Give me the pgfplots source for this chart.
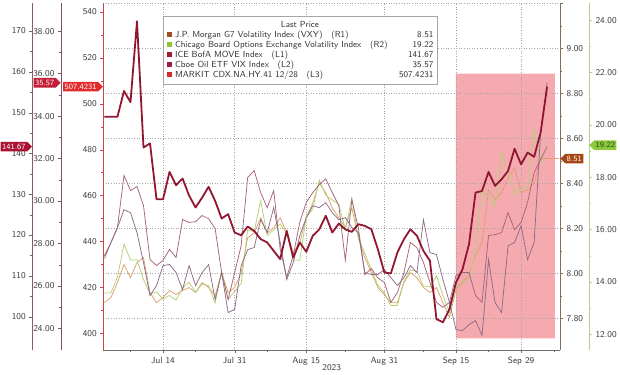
\documentclass[border=0pt]{standalone}
\usepackage{pgfplots}
\pgfplotsset{compat=1.18}
\renewcommand{\familydefault}{\sfdefault}
\usetikzlibrary{shapes.symbols}
\definecolor{tickc}{RGB}{60,60,60}
\definecolor{gridc}{RGB}{165,165,165}
\definecolor{pinkc}{RGB}{245,170,176}
\definecolor{lVXY}{RGB}{220,160,110}
\definecolor{lVIX}{RGB}{180,208,115}
\definecolor{lMOVE}{RGB}{168,100,115}
\definecolor{lOVX}{RGB}{140,108,135}
\definecolor{lCDX}{RGB}{145,22,48}
\definecolor{sVXY}{RGB}{160,80,30}
\definecolor{sVIX}{RGB}{140,200,50}
\definecolor{sMOVE}{RGB}{160,30,45}
\definecolor{sOVX}{RGB}{150,30,75}
\definecolor{sCDX}{RGB}{215,40,40}
\definecolor{aL1}{RGB}{140,90,100}
\definecolor{aL2}{RGB}{130,80,105}
\definecolor{aL3}{RGB}{200,70,70}
\definecolor{aR1}{RGB}{130,110,90}
\definecolor{aR2}{RGB}{185,205,140}
\definecolor{axg}{RGB}{110,110,110}
\definecolor{bL1}{RGB}{170,20,50}
\definecolor{bL2}{RGB}{195,30,55}
\definecolor{bL3}{RGB}{225,45,45}
\definecolor{bR1}{RGB}{165,70,20}
\definecolor{bR2}{RGB}{140,200,60}
\definecolor{bR2t}{RGB}{30,80,20}
\newcommand{\sq}[1]{{\color{#1}\rule[0pt]{5.5pt}{5.5pt}}\hspace{3pt}}
\newcommand{\legitem}[1]{\makebox[233pt][l]{#1}}
\tikzset{gridsty/.style={draw=gridc, dash pattern=on 1pt off 1.6pt, line width=0.5pt},
  badge/.style={shape=signal, fill=#1, text=white, font=\fontsize{8}{9}\selectfont,
  inner xsep=1.5pt, inner ysep=2pt}}
\pgfplotsset{
  base/.style={scale only axis, height=348pt, anchor=south west,
    clip mode=individual,
    /pgf/number format/assume math mode=true,
    tick label style={font=\fontsize{9}{10}\selectfont, text=tickc},
    tick align=outside, major tick length=3pt, minor tick length=1.8pt,
    axis line style={-}},
}
\begin{document}
\begin{tikzpicture}
\path (0,0) rectangle (620pt,370pt);
% pink region
\begin{axis}[base, hide axis, at={(103.3pt,22pt)}, width=457.7pt,
  xmin=-0.2, xmax=70, ymin=392.6, ymax=543.9]
\addplot[fill=pinkc, draw=none] coordinates {(54,397.8) (69.2,397.8) (69.2,513.1) (54,513.1) (54,397.8)};
\end{axis}
% x axis and vertical grid
\begin{axis}[base, at={(103.3pt,22pt)}, width=457.7pt,
  xmin=-0.2, xmax=70, ymin=0, ymax=1,
  axis x line*=bottom, axis y line*=left, ytick=\empty,
  y axis line style={draw=none},
  x axis line style={draw=axg},
  xtick={9,20,31,43,54,64}, xticklabels={Jul 14,Jul 31,Aug 15,Aug 31,Sep 15,Sep 29},
  minor xtick={4,14,25,37,49,59,69},
  tick style={draw=axg},
  xmajorgrids, major grid style={gridsty},
  xlabel={2023}, xlabel style={font=\fontsize{9}{10}\selectfont, text=tickc, yshift=7pt}]
\end{axis}
% R1: VXY
\begin{axis}[base, at={(103.3pt,22pt)}, width=457.7pt,
  xmin=-0.2, xmax=70, ymin=7.658, ymax=9.202,
  axis x line*=bottom, xtick=\empty, x axis line style={draw=none},
  axis y line*=right, y axis line style={draw=aR1}, tick style={draw=aR1},
  ytick={7.8,8,8.2,8.4,8.6,8.8,9,9.2},
  yticklabels={7.80,8.00,8.20,8.40,8.60,8.80,9.00,{}},
  minor y tick num=1,
  ymajorgrids, major grid style={gridsty}]
\addplot[lVXY, line width=0.75pt] coordinates {(0,7.870)(1,7.893)(2,7.959)(3,8.039)(4,7.981)(5,8.048)(6,8.070)(7,7.915)(8,7.870)(9,7.893)(10,7.924)(11,7.906)(12,7.924)(13,7.937)(14,7.915)(15,7.959)(16,7.937)(17,7.901)(18,8.003)(19,7.915)(20,7.937)(21,8.003)(22,8.158)(23,8.180)(24,8.247)(25,8.180)(26,8.203)(27,8.247)(28,8.180)(29,8.092)(30,8.136)(31,8.247)(32,8.313)(33,8.402)(34,8.358)(35,8.291)(36,8.247)(37,8.203)(38,8.291)(39,8.158)(40,8.070)(41,8.003)(42,7.937)(43,7.906)(44,7.870)(45,7.870)(46,7.959)(47,8.003)(48,7.981)(49,7.937)(50,7.915)(51,7.937)(52,7.870)(53,7.804)(54,7.928)(55,7.959)(56,7.994)(57,8.079)(58,8.136)(59,8.371)(60,8.327)(61,8.358)(62,8.424)(63,8.468)(64,8.358)(65,8.371)(66,8.402)(67,8.51)(68,8.51)(69.8,8.51)};
\node[badge=bR1, signal to=west, anchor=west] at (axis cs:70,8.51) {8.51};
\end{axis}
% R2: VIX
\begin{axis}[base, at={(103.3pt,22pt)}, width=486.7pt,
  xmin=-0.2, xmax=74.45, ymin=11.38, ymax=24.66,
  axis x line*=bottom, xtick=\empty, x axis line style={draw=none},
  axis y line*=right, y axis line style={draw=aR2}, tick style={draw=aR2},
  ytick={12,14,16,18,20,22,24}, minor y tick num=1,
  yticklabels={12.00,14.00,16.00,18.00,20.00,22.00,24.00}]
\addplot[lVIX, line width=0.75pt] coordinates {(0,13.57)(1,13.57)(2,14.18)(3,15.44)(4,14.83)(5,14.84)(6,14.09)(7,13.54)(8,13.61)(9,13.34)(10,13.48)(11,13.30)(12,13.76)(13,13.99)(14,13.60)(15,13.91)(16,13.86)(17,13.19)(18,14.41)(19,13.33)(20,13.63)(21,13.93)(22,15.99)(23,15.92)(24,17.10)(25,15.77)(26,15.99)(27,16.21)(28,15.85)(29,14.84)(30,14.82)(31,16.46)(32,16.78)(33,17.89)(34,17.30)(35,17.13)(36,16.97)(37,15.98)(38,17.20)(39,15.68)(40,15.08)(41,14.45)(42,13.88)(43,13.57)(44,13.09)(45,13.09)(46,14.02)(47,14.45)(48,14.40)(49,13.84)(50,13.80)(51,14.23)(52,13.48)(53,12.82)(54,13.79)(55,14.00)(56,14.11)(57,15.14)(58,17.54)(59,17.20)(60,16.90)(61,18.94)(62,18.22)(63,17.34)(64,17.52)(65,17.61)(66,19.78)(67,18.58)(68,19.22)};
\node[badge=bR2, text=bR2t, signal to=west, anchor=west] at (axis cs:74.45,19.22) {19.22};
\end{axis}
% L1: MOVE
\begin{axis}[base, at={(32.3pt,22pt)}, width=528.7pt,
  xmin=-11.09, xmax=70, ymin=91.75, ymax=176.9,
  axis x line*=bottom, xtick=\empty, x axis line style={draw=none},
  axis y line*=left, y axis line style={draw=aL1}, tick style={draw=aL1},
  ytick={100,110,120,130,140,150,160,170}, minor y tick num=1]
\addplot[lMOVE, line width=0.75pt] coordinates {(0,114.3)(1,118.2)(2,121.8)(3,134.6)(4,130.9)(5,131.9)(6,127.2)(7,114.0)(8,112.5)(9,113.8)(10,116.5)(11,114.5)(12,123.8)(13,123.1)(14,123.3)(15,124.8)(16,124.0)(17,121.6)(18,110.8)(19,104.2)(20,110.8)(21,117.4)(22,134.1)(23,135.8)(24,130.4)(25,126.7)(26,130.9)(27,116.5)(28,109.6)(29,115.0)(30,123.1)(31,128.0)(32,130.4)(33,132.4)(34,133.8)(35,130.4)(36,127.2)(37,113.8)(38,128.7)(39,121.8)(40,110.3)(41,111.8)(42,109.5)(43,108.4)(44,103.5)(45,105.9)(46,110.8)(47,118.2)(48,116.9)(49,113.3)(50,108.4)(51,103.5)(52,102.3)(53,103.5)(54,110.1)(55,110.8)(56,110.8)(57,105.2)(58,103.5)(59,119.9)(60,120.1)(61,120.6)(62,125.5)(63,121.3)(64,123.1)(65,128.0)(66,135.3)(67,138.5)(68,141.67)};
\node[badge=bL1, signal to=east, anchor=east] at (axis cs:-11.09,141.67) {141.67};
\end{axis}
% L2: OVX
\begin{axis}[base, at={(61pt,22pt)}, width=500pt,
  xmin=-6.69, xmax=70, ymin=22.97, ymax=39.33,
  axis x line*=bottom, xtick=\empty, x axis line style={draw=none},
  axis y line*=left, y axis line style={draw=aL2}, tick style={draw=aL2},
  ytick={24,26,28,30,32,34,36,38}, minor y tick num=1,
  yticklabels={24.00,26.00,28.00,30.00,32.00,34.00,36.00,38.00}]
\addplot[lOVX, line width=0.75pt] coordinates {(0,27.43)(1,28.04)(2,28.75)(3,29.59)(4,29.45)(5,28.51)(6,27.10)(7,25.55)(8,26.02)(9,26.96)(10,27.01)(11,26.63)(12,25.83)(13,26.96)(14,26.02)(15,26.63)(16,27.01)(17,25.36)(18,26.63)(19,24.75)(20,24.90)(21,26.96)(22,27.71)(23,27.81)(24,29.12)(25,28.51)(26,29.69)(27,28.04)(28,26.30)(29,27.10)(30,28.37)(31,29.22)(32,29.78)(33,29.69)(34,29.92)(35,29.45)(36,29.12)(37,29.22)(38,28.75)(39,28.51)(40,26.63)(41,26.54)(42,26.54)(43,26.77)(44,26.39)(45,26.02)(46,26.39)(47,26.96)(48,26.63)(49,29.12)(50,27.57)(51,27.48)(52,26.30)(53,25.22)(54,23.95)(55,23.90)(56,24.18)(57,24.37)(58,23.67)(59,27.24)(60,25.22)(61,24.75)(62,27.90)(63,28.04)(64,28.84)(65,27.24)(66,28.04)(67,33.22)(68,35.57)};
\node[badge=bL2, signal to=east, anchor=east] at (axis cs:-6.69,35.57) {35.57};
\end{axis}
% L3: CDX HY (thick, on top)
\begin{axis}[base, at={(103.3pt,22pt)}, width=457.7pt,
  xmin=-0.2, xmax=70, ymin=392.6, ymax=543.9,
  axis x line*=bottom, xtick=\empty, x axis line style={draw=none},
  axis y line*=left, y axis line style={draw=aL3, line width=0.8pt}, tick style={draw=aL3},
  ytick={400,420,440,460,480,500,520,540}, minor y tick num=1]
\addplot[lCDX, line width=1.8pt, line join=round] coordinates {(0,494.3)(1,494.3)(2,494.3)(3,505.5)(4,500.7)(5,535.9)(6,480.9)(7,482.7)(8,458.4)(9,458.4)(10,470.3)(11,464.5)(12,467.4)(13,460.0)(14,454.8)(15,459.1)(16,463.8)(17,457.7)(18,450.0)(19,451.9)(20,443.9)(21,442.7)(22,446.5)(23,444.6)(24,441.0)(25,439.6)(26,435.9)(27,432.3)(28,444.6)(29,433.0)(30,439.6)(31,435.5)(32,442.5)(33,445.3)(34,451.2)(35,443.9)(36,447.8)(37,445.3)(38,444.2)(39,447.5)(40,446.8)(41,445.3)(42,436.6)(43,426.5)(44,426.1)(45,435.2)(46,441.0)(47,445.3)(48,442.5)(49,435.9)(50,431.6)(51,406.2)(52,404.8)(53,410.6)(54,422.2)(55,427.9)(56,438.8)(57,461.3)(58,462.0)(59,470.3)(60,464.2)(61,467.1)(62,470.7)(63,480.4)(64,473.6)(65,478.7)(66,476.9)(67,487.4)(68,507.4)};
\node[badge=bL3, signal to=east, anchor=east] at (axis cs:-0.2,507.42) {507.4231};
\node[draw=gray!70, fill=white, anchor=north west, inner xsep=3.5pt, inner ysep=4pt, line width=0.6pt,
  font=\fontsize{8.8}{10}\selectfont, text=black!80] at (rel axis cs:0.1304,0.9626) {%
  \begin{tabular}{@{}l@{}r@{}}
  \multicolumn{2}{c}{Last Price}\\
  \legitem{\sq{sVXY}J.P. Morgan G7 Volatility Index (VXY)\quad(R1)} & 8.51\\
  \legitem{\sq{sVIX}Chicago Board Options Exchange Volatility Index\quad(R2)} & 19.22\\
  \legitem{\sq{sMOVE}ICE BofA MOVE Index\quad(L1)} & 141.67\\
  \legitem{\sq{sOVX}Cboe Oil ETF VIX Index\quad(L2)} & 35.57\\
  \legitem{\sq{sCDX}MARKIT CDX.NA.HY.41 12/28\quad(L3)} & 507.4231
  \end{tabular}};
\end{axis}
\end{tikzpicture}
\end{document}
